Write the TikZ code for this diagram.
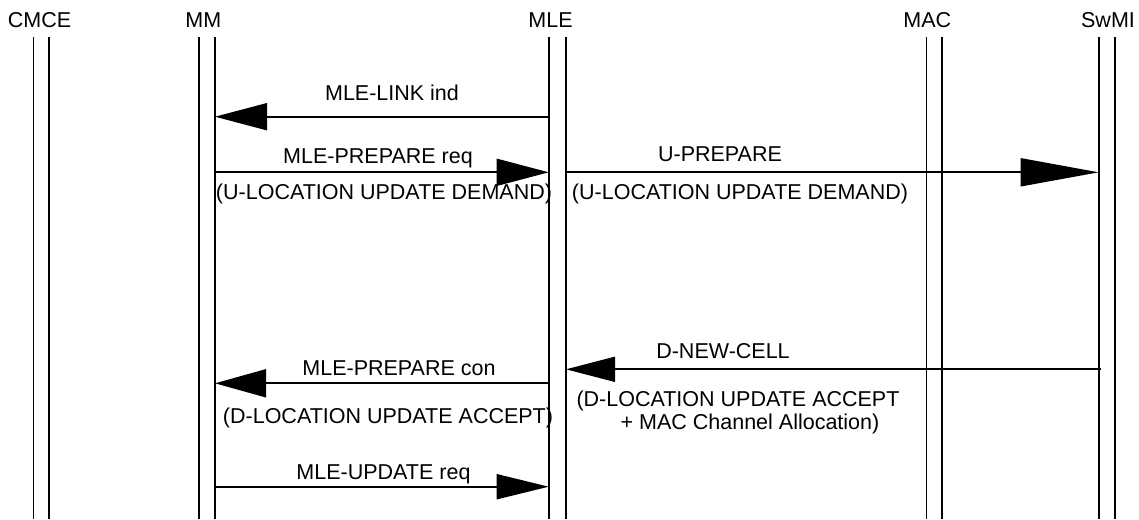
\documentclass[tikz,border=0pt]{standalone}
\usepackage{fontspec}
\setmainfont{Liberation Sans}
\usetikzlibrary{arrows.meta}
\begin{document}
\begin{tikzpicture}[x=1pt,y=-1pt,
  lifeline/.style={line width=1.8pt},
  msg/.style={line width=1.7pt},
  tipA/.style={-{Triangle[length=52pt,width=27pt]}},
  tipB/.style={-{Triangle[length=78pt,width=28pt]}},
  tipC/.style={-{Triangle[length=49pt,width=25pt]}},
  tipD/.style={-{Triangle[length=51pt,width=28pt]}},
  tipE/.style={-{Triangle[length=52pt,width=25pt]}},
  lbl/.style={inner sep=0pt,anchor=base,font=\fontsize{21.5}{25.5}\selectfont},
  hdr/.style={lbl}]
\useasboundingbox (0,0) rectangle (1139,519);
% headers
\node[hdr] (hCMCE) at (39.5,27.9) {CMCE};
\node[hdr] (hMM)   at (203.3,27.9) {MM};
\node[hdr] (hMLE)  at (550.5,27.7) {MLE};
\node[hdr] (hMAC)  at (927.3,27.7) {MAC};
\node[hdr] (hSwMI) at (1108,27.7) {SwMI};
% lifelines
\foreach \n/\a/\b in {CMCE/33.5/49.3, MM/199.3/215, MLE/548.7/566, MAC/926.5/942, SwMI/1098.7/1115}{
  \coordinate (\n La) at (\a,37);
  \coordinate (\n Lb) at (\a,519);
  \coordinate (\n Ra) at (\b,37);
  \coordinate (\n Rb) at (\b,519);
  \draw[lifeline] (\n La) -- (\n Lb);
  \draw[lifeline] (\n Ra) -- (\n Rb);
}
% message end points
\coordinate (m1s) at (548.7,116.7); \coordinate (m1e) at (215,116.7);
\coordinate (m2s) at (215,172.3);   \coordinate (m2e) at (548.7,172.3);
\coordinate (m3s) at (566,172.3);   \coordinate (m3e) at (1098.7,172.3);
\coordinate (m4s) at (1101,369.3);  \coordinate (m4e) at (566,369.3);
\coordinate (m5s) at (550,383.3);   \coordinate (m5e) at (215,383.3);
\coordinate (m6s) at (215,486.7);   \coordinate (m6e) at (548.7,486.7);
% messages
\draw[msg,tipA] (m1s) -- (m1e);
\node[lbl] (l1) at (392,100.4) {MLE-LINK ind};
\draw[msg,tipA] (m2s) -- (m2e);
\node[lbl] (l2) at (378,163.4) {MLE-PREPARE req};
\node[lbl] (l2b) at (384,199.4) {(U-LOCATION UPDATE DEMAND)};
\draw[msg,tipB] (m3s) -- (m3e);
\node[lbl] (l3) at (720,161.7) {U-PREPARE};
\node[lbl] (l3b) at (740,199.4) {(U-LOCATION UPDATE DEMAND)};
\draw[msg,tipC] (m4s) -- (m4e);
\node[lbl] (l4) at (723,358.4) {D-NEW-CELL};
\node[lbl] (l4b) at (738,406) {(D-LOCATION UPDATE ACCEPT};
\node[lbl] (l4c) at (750,429.4) {+ MAC Channel Allocation)};
\draw[msg,tipD] (m5s) -- (m5e);
\node[lbl] (l5) at (399,375.5) {MLE-PREPARE con};
\node[lbl] (l5b) at (388,423.7) {(D-LOCATION UPDATE ACCEPT)};
\draw[msg,tipE] (m6s) -- (m6e);
\node[lbl] (l6) at (383.5,479) {MLE-UPDATE req};
\end{tikzpicture}
\end{document}
